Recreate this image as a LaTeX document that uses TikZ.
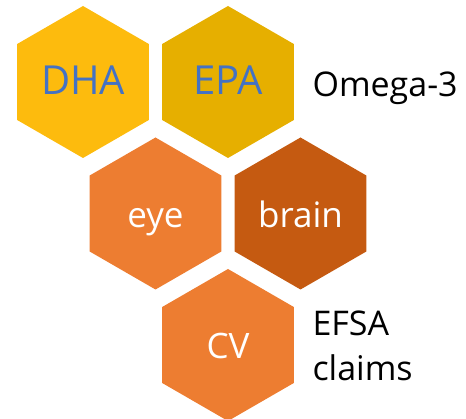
\documentclass[tikz,border=0pt]{standalone}
\usepackage{fontspec}
\setmainfont{Open Sans}
\usetikzlibrary{shapes.geometric, positioning}
\definecolor{dhagold}{RGB}{253,187,13}
\definecolor{epagold}{RGB}{230,175,0}
\definecolor{lightorange}{RGB}{237,125,49}
\definecolor{darkorange}{RGB}{197,90,17}
\definecolor{textblue}{RGB}{68,114,196}

\begin{document}
\begin{tikzpicture}[x=1pt, y=-1pt,
    hexa/.style={regular polygon, regular polygon sides=6, shape border rotate=30,
        minimum size=152pt, inner sep=0pt, draw=none},
    bigtext/.style={font=\fontsize{40}{48}\selectfont, text=textblue,
        text height=26pt, text depth=0pt},
    midtext/.style={font=\fontsize{35}{42}\selectfont, text=white,
        text height=28pt, text depth=0pt},
    sidetext/.style={font=\fontsize{34}{45}\selectfont, text=black, align=left}]
    \useasboundingbox (0,0) rectangle (466,419);

    % Omega-3 row
    \node[hexa, fill=dhagold, bigtext] (dha) at (83,82) {DHA};
    \node[hexa, fill=epagold, bigtext] (epa) at (228,82) {EPA};
    \node[sidetext, anchor=base west] (omega) at (309,97) {Omega-3};

    % organ row
    \node[hexa, fill=lightorange, midtext] (eye) at (155.5,213.5) {eye};
    \node[hexa, fill=darkorange, midtext] (brain) at (300.5,213.5) {brain};

    % claims row
    \node[hexa, fill=lightorange, midtext] (cv) at (228,345) {CV};
    \node[sidetext, anchor=west] (efsa) at (309,346) {EFSA\\claims};
\end{tikzpicture}
\end{document}
